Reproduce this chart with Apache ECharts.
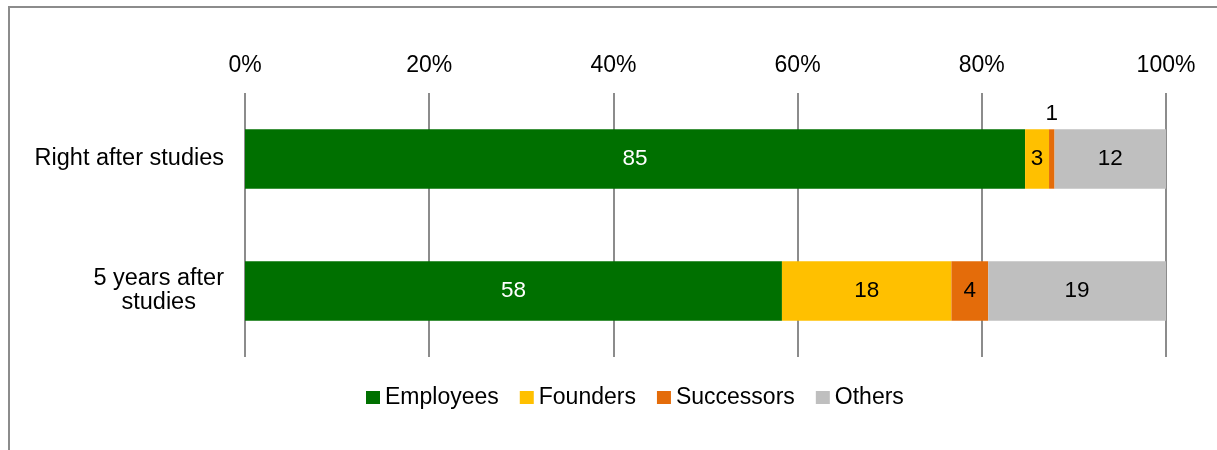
<!DOCTYPE html>
<html>
<head>
<meta charset="utf-8">
<script src="https://cdn.jsdelivr.net/npm/echarts@6/dist/echarts.min.js"></script>
<style>
  html, body { margin: 0; padding: 0; background: #fff; }
  #frame { position: absolute; left: 8px; top: 6px; right: -2px; bottom: -2px; border-left: 2px solid #8c8c8c; border-top: 2px solid #8c8c8c; }
  #chart { position: absolute; left: 0; top: 0; width: 1217px; height: 450px; }
</style>
</head>
<body>
<div id="frame"></div>
<div id="chart"></div>
<script>
const categories = ['Right after studies', '5 years after\nstudies'];
const seriesNames = ['Employees', 'Founders', 'Successors', 'Others'];
const employees = [84.7, 58.3];
const founders = [2.6, 18.4];
const successors = [0.6, 4.0];
const others = [12.1, 19.3];
const colors = ['#007000', '#FFC000', '#E46C0A', '#BFBFBF'];
const tickLabels = ['0%', '20%', '40%', '60%', '80%', '100%'];

const valueSets = [employees, founders, successors, others];
const FONT = '"Liberation Sans", Arial, sans-serif';

const series = seriesNames.map((name, i) => ({
  name: name,
  type: 'bar',
  stack: 'total',
  barWidth: '45%',
  itemStyle: { color: colors[i] },
  label: {
    show: true,
    position: 'inside',
    color: i === 0 ? '#ffffff' : '#000000',
    fontFamily: FONT,
    fontSize: 22.5,
    formatter: p => String(Math.round(p.value))
  },
  data: valueSets[i].map(v => {
    if (i === 2 && v < 2) {
      return { value: v, label: { position: 'top', distance: 4 } };
    }
    return v;
  })
}));

const chart = echarts.init(document.getElementById('chart'), null, { renderer: 'canvas' });
chart.setOption({
  animation: false,
  backgroundColor: 'transparent',
  textStyle: { fontFamily: FONT },
  grid: { left: 245, right: 51, top: 93, bottom: 93, containLabel: false },
  legend: {
    data: seriesNames,
    top: 386,
    left: 366,
    padding: 0,
    itemWidth: 14,
    itemHeight: 13,
    itemGap: 21,
    icon: 'rect',
    textStyle: { fontFamily: FONT, fontSize: 23, color: '#000' }
  },
  xAxis: {
    type: 'value',
    position: 'top',
    min: 0,
    max: 100,
    interval: 20,
    axisLine: { show: false },
    axisTick: { show: false },
    axisLabel: {
      margin: 16,
      fontFamily: FONT,
      fontSize: 23,
      color: '#000',
      formatter: v => tickLabels[Math.round(v / 20)]
    },
    splitLine: { show: true, lineStyle: { color: '#8c8c8c', width: 2 } }
  },
  yAxis: {
    type: 'category',
    inverse: true,
    data: categories,
    axisLine: { show: false },
    axisTick: { show: false },
    axisLabel: {
      margin: 21,
      fontFamily: FONT,
      fontSize: 23.5,
      color: '#000',
      lineHeight: 24,
      formatter: v => v.split('\n').map(s => '{c|' + s + '}').join('\n'),
      rich: { c: { align: 'center', fontFamily: FONT, fontSize: 23.5, lineHeight: 24, color: '#000' } }
    }
  },
  series: series
});
</script>
</body>
</html>
